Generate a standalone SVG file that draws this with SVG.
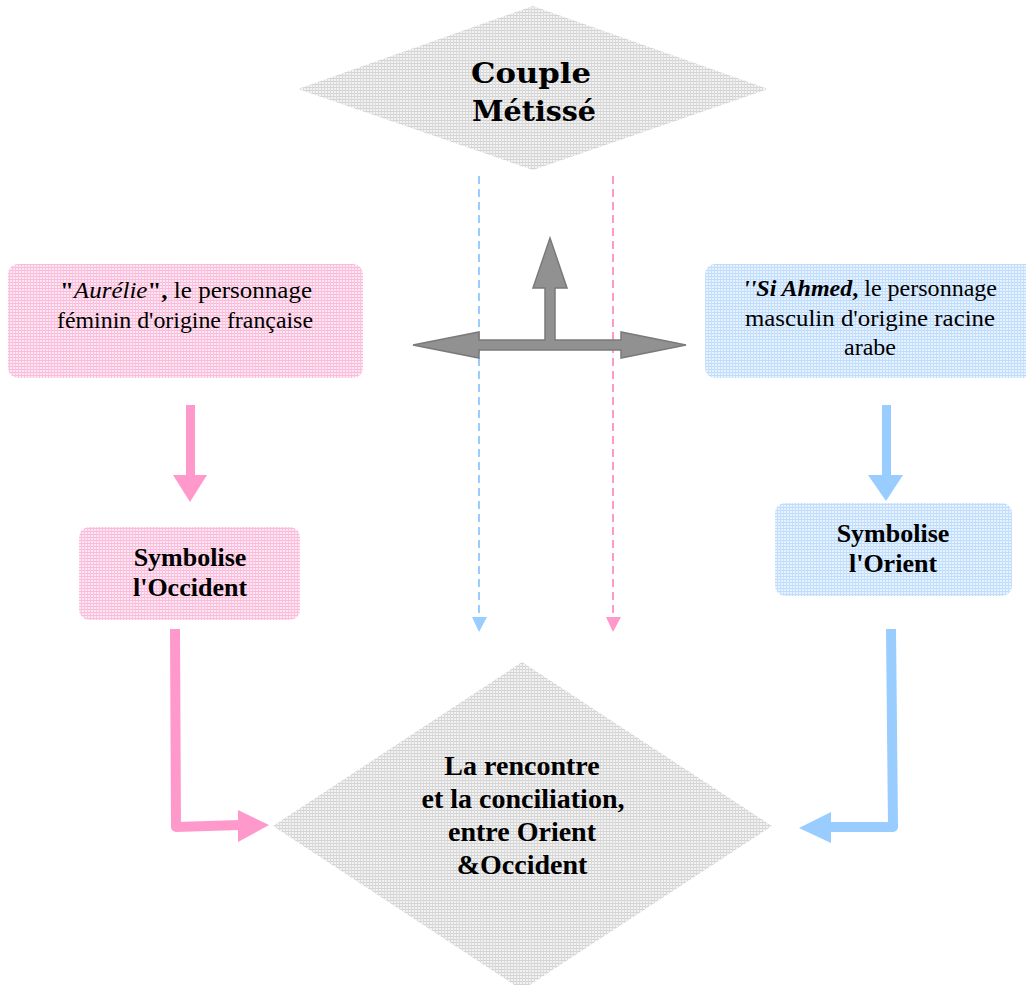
<svg xmlns="http://www.w3.org/2000/svg" width="1026" height="985" viewBox="0 0 1026 985">
<style>
.t{font-family:"Liberation Serif","Times New Roman",serif;fill:#000}
.b{font-weight:bold}
.dj{font-family:"DejaVu Serif",serif;font-weight:bold}
.dashB{stroke:#99ccff;stroke-width:2;stroke-dasharray:8 5;fill:none}
.dashP{stroke:#ff99cc;stroke-width:2;stroke-dasharray:8 5;fill:none}
</style>
<defs>
<pattern id="pg" width="3" height="3" patternUnits="userSpaceOnUse">
<rect width="3" height="3" fill="#f2f2f2"/>
<rect width="3" height="1" fill="#d2d2d2"/>
<rect width="1" height="3" fill="#dadada"/>
</pattern>
<pattern id="pp" width="3" height="3" patternUnits="userSpaceOnUse">
<rect width="3" height="3" fill="#ffe6f2"/>
<rect width="3" height="1" fill="#f8bad9"/>
<rect width="1" height="3" fill="#fac4df"/>
</pattern>
<pattern id="pb" width="3" height="3" patternUnits="userSpaceOnUse">
<rect width="3" height="3" fill="#e6f2ff"/>
<rect width="3" height="1" fill="#bddbfa"/>
<rect width="1" height="3" fill="#c6e0fb"/>
</pattern>
</defs>
<rect width="1026" height="985" fill="#fff"/>

<g id="couple">
<polygon points="533,6 768,89 533,170 298,89" fill="url(#pg)"/>
<text class="t dj" x="531" y="83" text-anchor="middle" font-size="27" textLength="120" lengthAdjust="spacingAndGlyphs">Couple</text>
<text class="t dj" x="534" y="121" text-anchor="middle" font-size="27" textLength="124" lengthAdjust="spacingAndGlyphs">Métissé</text>
</g>

<g id="aurelie">
<rect x="8" y="264" width="355" height="114" rx="10" fill="url(#pp)"/>
<text class="t" x="186" y="298" text-anchor="middle" font-size="24" textLength="252" lengthAdjust="spacingAndGlyphs"><tspan class="b">"</tspan><tspan font-style="italic">Aurélie</tspan><tspan class="b">",</tspan> le personnage</text>
<text class="t" x="185" y="328" text-anchor="middle" font-size="24" textLength="256" lengthAdjust="spacingAndGlyphs">féminin d'origine française</text>
</g>

<g id="siahmed">
<rect x="705" y="264" width="340" height="114" rx="10" fill="url(#pb)"/>
<text class="t" x="870" y="296" text-anchor="middle" font-size="24" textLength="254" lengthAdjust="spacingAndGlyphs"><tspan class="b" font-style="italic">''Si Ahmed</tspan><tspan class="b">,</tspan> le personnage</text>
<text class="t" x="870" y="326" text-anchor="middle" font-size="24" textLength="250" lengthAdjust="spacingAndGlyphs">masculin d'origine racine</text>
<text class="t" x="870" y="355" text-anchor="middle" font-size="24">arabe</text>
</g>

<g id="occident">
<rect x="79" y="527" width="221" height="93" rx="10" fill="url(#pp)"/>
<text class="t b" x="190" y="566" text-anchor="middle" font-size="26">Symbolise</text>
<text class="t b" x="190" y="596" text-anchor="middle" font-size="26">l'Occident</text>
</g>

<g id="orient">
<rect x="775" y="503" width="237" height="93" rx="10" fill="url(#pb)"/>
<text class="t b" x="893" y="542" text-anchor="middle" font-size="26">Symbolise</text>
<text class="t b" x="893" y="572" text-anchor="middle" font-size="26">l'Orient</text>
</g>

<g id="rencontre">
<polygon points="522,662 772,826 522,990 273,826" fill="url(#pg)"/>
<text class="t b" x="522" y="775" text-anchor="middle" font-size="28">La rencontre</text>
<text class="t b" x="523" y="808" text-anchor="middle" font-size="28">et la conciliation,</text>
<text class="t b" x="522" y="841" text-anchor="middle" font-size="28">entre Orient</text>
<text class="t b" x="522" y="874" text-anchor="middle" font-size="28">&amp;Occident</text>
</g>

<g id="connectors">
<line class="dashB" x1="479" y1="176" x2="479" y2="618"/>
<polygon points="472,617 487,617 479,632" fill="#99ccff"/>
<line class="dashP" x1="613" y1="176" x2="613" y2="618"/>
<polygon points="606,617 621,617 613,632" fill="#ff99cc"/>

<path d="M479,340 L479,332 L413,345 L479,358 L479,350 L621,350 L621,358 L686,345 L621,332 L621,340 L555,340 L555,288 L567,288 L550,238 L533,288 L545,288 L545,340 Z" fill="#919191" stroke="#7a7a7a" stroke-width="1.5" stroke-linejoin="miter"/>

<rect x="186" y="405" width="9" height="71" fill="#ff99cc"/>
<polygon points="173,475 207,475 190,502" fill="#ff99cc"/>
<rect x="882" y="405" width="9" height="71" fill="#99ccff"/>
<polygon points="868,475 903,475 886,501" fill="#99ccff"/>

<polyline points="175,629 176,827 240,825" fill="none" stroke="#ff99cc" stroke-width="10" stroke-linejoin="round"/>
<polygon points="238,810 269,825 238,842" fill="#ff99cc"/>
<polyline points="891,629 893,827 830,827" fill="none" stroke="#99ccff" stroke-width="10" stroke-linejoin="round"/>
<polygon points="831,812 799,828 831,843" fill="#99ccff"/>
</g>
</svg>
